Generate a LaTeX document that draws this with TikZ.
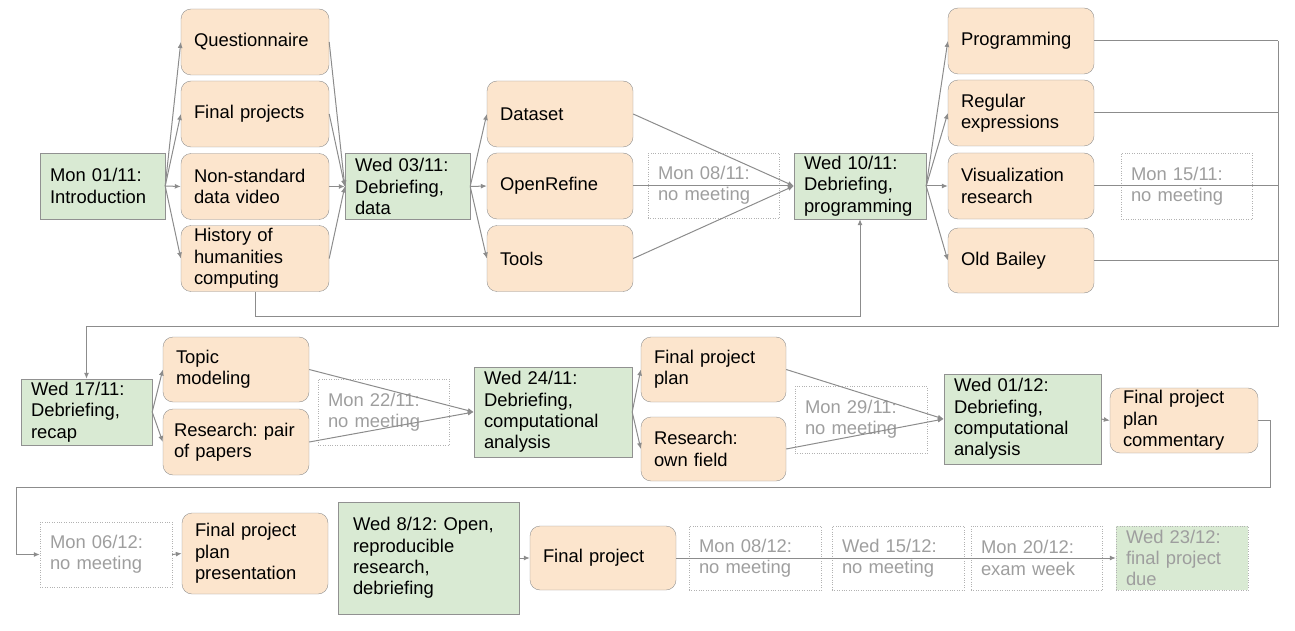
\documentclass[tikz,border=0pt]{standalone}
\usepackage{fontspec}
\setmainfont{Liberation Sans}
\usepackage{tikz}
\usetikzlibrary{arrows.meta, positioning}
\definecolor{weekgreen}{RGB}{217,234,211}
\definecolor{taskorange}{RGB}{252,229,205}
\definecolor{linegray}{RGB}{140,140,140}
\definecolor{boxgray}{RGB}{145,145,145}
\definecolor{dotgray}{RGB}{178,178,178}
\definecolor{textgray}{RGB}{158,158,158}
\frenchspacing

\begin{document}
\begin{tikzpicture}[x=1pt,y=-1pt,
    font=\fontsize{18.4}{21.3}\selectfont,
    meeting/.style={draw=boxgray,fill=weekgreen,align=left,inner xsep=10pt,inner ysep=0pt},
    task/.style={draw=boxgray,fill=taskorange,rounded corners=10pt,align=left,inner xsep=13pt,inner ysep=0pt},
    nomeeting/.style={draw=dotgray,dotted,text=textgray,align=left,inner xsep=10pt,inner ysep=0pt},
    link/.style={draw=linegray,line width=1pt},
    arr/.style={link,-{Latex[length=6pt,width=5pt]}}]
    \useasboundingbox (0,0) rectangle (1295,631);

    % Prima settimana
    \node[meeting,text width=105pt,minimum height=66pt] (intro) at (102.5,186) {Mon 01/11:\\Introduction};
    \node[task,text width=122pt,minimum height=66pt] (quest) at (255,42) {Questionnaire};
    \node[task,text width=122pt,minimum height=66pt] (finalproj) at (255,114) {Final projects};
    \node[task,text width=122pt,minimum height=66pt] (nonstd) at (255,186.5) {Non-standard\\data video};
    \node[task,text width=122pt,minimum height=66pt] (history) at (255,258.5) {History of\\humanities\\computing};
    \node[meeting,text width=105pt,minimum height=66pt] (debrdata) at (407.5,186.5) {Wed 03/11:\\Debriefing,\\data};
    \node[task,text width=120pt,minimum height=66pt] (dataset) at (560,114) {Dataset};
    \node[task,text width=120pt,minimum height=66pt] (openrefine) at (560,186) {OpenRefine};
    \node[task,text width=120pt,minimum height=66pt] (tools) at (560,258.5) {Tools};
    \node[nomeeting,text width=111pt,minimum height=65pt] (nomtg0811) at (713.5,185.5) {Mon 08/11:\\no meeting};
    \node[meeting,text width=112pt,minimum height=66pt] (debrprog) at (860,186) {Wed 10/11:\\Debriefing,\\programming};
    \node[task,text width=120pt,minimum height=66pt] (programming) at (1021,41) {Programming};
    \node[task,text width=120pt,minimum height=66pt] (regex) at (1021,113) {Regular\\expressions};
    \node[task,text width=120pt,minimum height=66pt] (visres) at (1021,186) {Visualization\\research};
    \node[task,text width=120pt,minimum height=65pt] (oldbailey) at (1021,260.5) {Old Bailey};
    \node[nomeeting,text width=111pt,minimum height=66pt] (nomtg1511) at (1186.5,186) {Mon 15/11:\\no meeting};

    % Seconda riga
    \node[meeting,text width=111pt,minimum height=66pt] (recap) at (86.5,412) {Wed 17/11:\\Debriefing,\\recap};
    \node[task,text width=120pt,minimum height=65pt] (topic) at (236,369.5) {Topic\\modeling};
    \node[task,inner xsep=11pt,text width=124pt,minimum height=66pt] (pairpapers) at (236,442) {Research: pair\\of papers};
    \node[nomeeting,text width=111pt,minimum height=66pt] (nomtg2211) at (383.5,412) {Mon 22/11:\\no meeting};
    \node[meeting,text width=138pt,minimum height=90pt] (debrcomp) at (553,412) {Wed 24/11:\\Debriefing,\\computational\\analysis};
    \node[task,text width=119pt,minimum height=65pt] (fpplan) at (713.5,369.5) {Final project\\plan};
    \node[task,text width=119pt,minimum height=64pt] (ownfield) at (713.5,449) {Research:\\own field};
    \node[nomeeting,text width=112pt,minimum height=67pt] (nomtg2911) at (861,419.5) {Mon 29/11:\\no meeting};
    \node[meeting,text width=137pt,minimum height=90pt] (debrcomptwo) at (1022.5,419) {Wed 01/12:\\Debriefing,\\computational\\analysis};
    \node[task,text width=122pt,minimum height=65pt] (commentary) at (1184,420.5) {Final project\\plan\\commentary};

    % Terza riga
    \node[nomeeting,text width=112pt,minimum height=65pt] (nomtg0612) at (106,554.5) {Mon 06/12:\\no meeting};
    \node[task,text width=120pt,minimum height=81pt] (presentation) at (255,553.5) {Final project\\plan\\presentation};
    \node[meeting,inner xsep=15pt,text width=151pt,minimum height=112pt] (openres) at (428.5,558) {Wed 8/12: Open,\\reproducible\\research,\\debriefing};
    \node[task,text width=120pt,minimum height=64pt] (finalproject) at (603,558) {Final project};
    \node[nomeeting,text width=112pt,minimum height=64pt] (nomtg0812) at (755,558) {Mon 08/12:\\no meeting};
    \node[nomeeting,text width=112pt,minimum height=64pt] (nomtg1512) at (898,558) {Wed 15/12:\\no meeting};
    \node[nomeeting,text width=111pt,minimum height=64pt] (exam) at (1036.5,558) {Mon 20/12:\\exam week};
    \node[nomeeting,fill=weekgreen,text width=112pt,minimum height=64pt] (due) at (1182,558) {Wed 23/12:\\final project\\due};

    % Collegamenti prima riga
    \foreach \t in {quest,finalproj,nonstd,history}{
        \draw[arr] (intro.east) -- (\t.west);
        \draw[arr] (\t.east) -- (debrdata.west);
    }
    \foreach \t in {dataset,openrefine,tools}{
        \draw[arr] (debrdata.east) -- (\t.west);
        \draw[arr] (\t.east) -- (debrprog.west);
    }
    \draw[arr] (history.south) -- ++(0,25) -| (debrprog.south);
    \coordinate (wrapA) at (1278,326);
    \foreach \t in {programming,regex,visres,oldbailey}{
        \draw[arr] (debrprog.east) -- (\t.west);
        \draw[link] (\t.east) -- (\t.east -| wrapA);
    }
    \draw[arr] (programming.east -| wrapA) -- (wrapA) -| (recap.north);

    % Collegamenti seconda riga
    \foreach \t in {topic,pairpapers}{
        \draw[arr] (recap.east) -- (\t.west);
        \draw[arr] (\t.east) -- (debrcomp.west);
    }
    \foreach \t in {fpplan,ownfield}{
        \draw[arr] (debrcomp.east) -- (\t.west);
        \draw[arr] (\t.east) -- (debrcomptwo.west);
    }
    \draw[arr] (debrcomptwo.east) -- (commentary.west);
    \coordinate (wrapB) at (1270,487);
    \coordinate (wrapC) at (16,487);
    \draw[arr] (commentary.east) -| (wrapB) -- (wrapC) |- (nomtg0612.west);

    % Collegamenti terza riga
    \draw[arr] (nomtg0612.east) -- (presentation.west);
    \draw[arr] (openres.east) -- (finalproject.west);
    \draw[arr] (finalproject.east) -- (due.west);
\end{tikzpicture}
\end{document}
